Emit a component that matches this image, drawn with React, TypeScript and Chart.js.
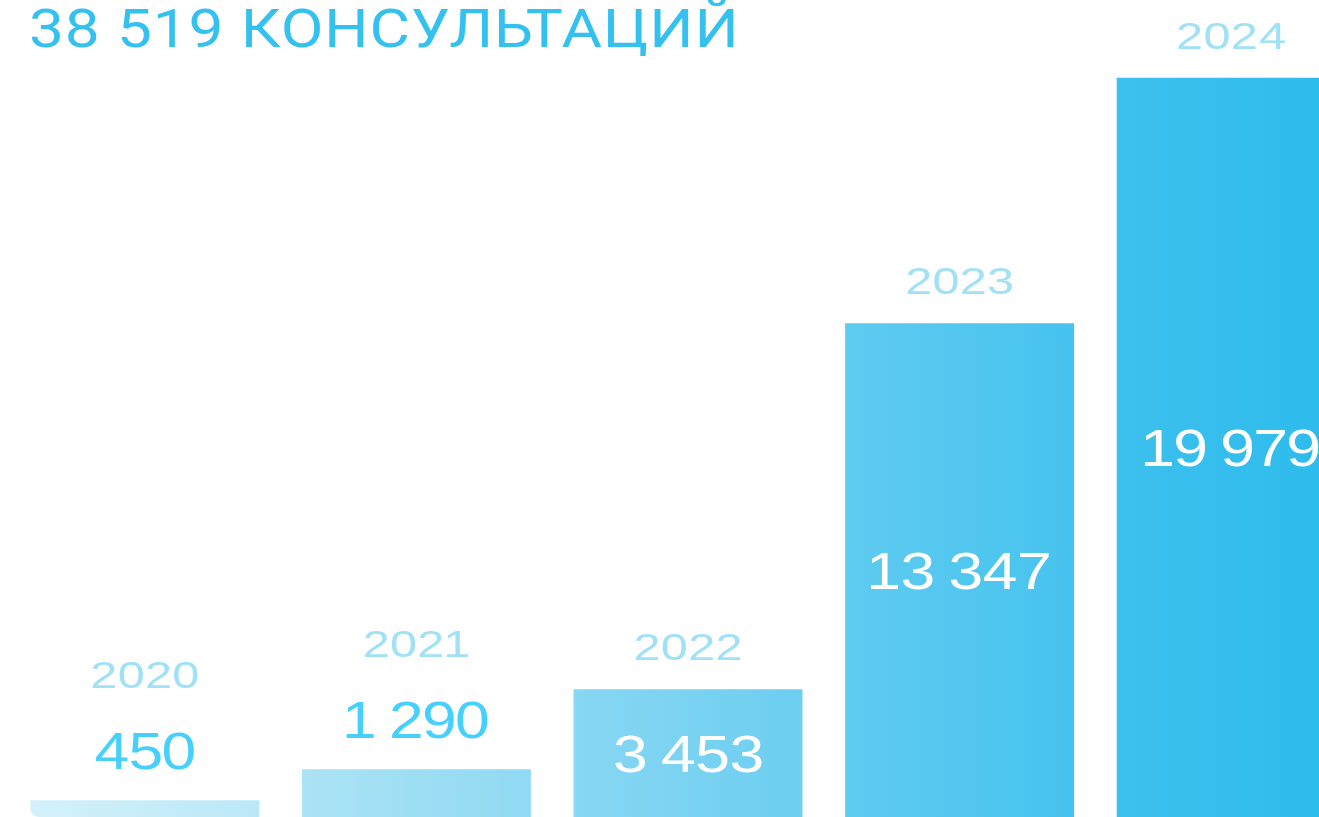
import React, { useEffect, useRef } from "react";
import { Chart, registerables } from "chart.js";

Chart.register(...registerables);

const TITLE = "38 519 КОНСУЛЬТАЦИЙ";
const YEARS = ["2020", "2021", "2022", "2023", "2024"];
const CONSULTATIONS = [450, 1290, 3453, 13347, 19979];
const Y_MAX = 22000;

const GRADIENT_STOPS: [number, string][] = [
  [0.0155, "#d4f1fa"],
  [0.184, "#bae8f7"],
  [0.2158, "#ace3f5"],
  [0.385, "#8fd9f2"],
  [0.416, "#88d7f3"],
  [0.585, "#6ccef0"],
  [0.616, "#5fcbf0"],
  [0.7835, "#46c3ee"],
  [0.8144, "#3dc0ee"],
  [0.9647, "#2ebcec"],
];

const fmt = (v: number) => String(v).replace(/\B(?=(\d{3})+(?!\d))/g, " ");

// Draws text centred at (cx, cy) using glyph ink boxes, horizontal stretch sx,
// a fixed gap between glyphs and an extra gap for spaces.
function drawInk(
  ctx: CanvasRenderingContext2D,
  text: string,
  cx: number,
  cy: number,
  size: number,
  sx: number,
  gap: number,
  spaceGap: number,
  color: string
) {
  ctx.save();
  ctx.font = `400 ${size}px "Liberation Sans", Arial, sans-serif`;
  ctx.fillStyle = color;
  ctx.textAlign = "left";
  ctx.textBaseline = "alphabetic";
  const items: { ch: string; l: number; w: number; space: boolean }[] = [];
  for (const ch of text) {
    if (ch === " ") {
      items.push({ ch, l: 0, w: 0, space: true });
      continue;
    }
    const m = ctx.measureText(ch);
    items.push({ ch, l: m.actualBoundingBoxLeft, w: (m.actualBoundingBoxLeft + m.actualBoundingBoxRight) * sx, space: false });
  }
  let total = 0;
  let glyphs = 0;
  items.forEach((it) => {
    if (it.space) total += spaceGap;
    else {
      if (glyphs > 0) total += gap;
      total += it.w;
      glyphs++;
    }
  });
  let px = cx - total / 2;
  const baseline = cy + size * 0.358;
  let first = true;
  items.forEach((it) => {
    if (it.space) {
      px += spaceGap;
      return;
    }
    if (!first) px += gap;
    first = false;
    ctx.save();
    ctx.translate(px + it.l * sx, baseline);
    ctx.scale(sx, 1);
    ctx.fillText(it.ch, 0, 0);
    ctx.restore();
    px += it.w;
  });
  ctx.restore();
}

const labelPlugin = {
  id: "barLabels",
  afterDatasetsDraw(chart: any) {
    const ctx: CanvasRenderingContext2D = chart.ctx;
    const meta = chart.getDatasetMeta(0);
    meta.data.forEach((bar: any, i: number) => {
      const { x, y, base } = bar.getProps(["x", "y", "base"], true);
      const h = base - y;
      const inside = h > 100;
      const valueCenter = inside ? (y + base) / 2 : y - 50;
      const yearCenter = inside ? y - 42 : valueCenter - 75;
      drawInk(ctx, fmt(CONSULTATIONS[i]), x, valueCenter, 52, 1.2, 3, 14, inside ? "#ffffff" : "#47d0fb");
      drawInk(ctx, chart.data.labels[i], x, yearCenter, 36, 1.35, 3, 6, "#a0e1f6");
    });
    // title
    ctx.save();
    ctx.font = `400 54px Roboto, "Noto Sans", sans-serif`;
    ctx.fillStyle = "#35c1ef";
    ctx.textAlign = "left";
    ctx.textBaseline = "alphabetic";
    (ctx as any).letterSpacing = "0.8px";
    ctx.translate(29, 47);
    ctx.scale(1.15, 1);
    ctx.fillText(TITLE, 0, 0);
    ctx.restore();
  },
};

export default function App() {
  const ref = useRef<HTMLCanvasElement | null>(null);

  useEffect(() => {
    if (!ref.current) return;
    const chart = new Chart(ref.current, {
      type: "bar",
      data: {
        labels: YEARS,
        datasets: [
          {
            data: CONSULTATIONS,
            backgroundColor: (c: any) => {
              const { chart } = c;
              const area = chart.chartArea;
              if (!area) return "#5fcbf0";
              const g = chart.ctx.createLinearGradient(area.left, 0, area.right, 0);
              GRADIENT_STOPS.forEach(([p, col]) => g.addColorStop(p, col));
              return g;
            },
            borderWidth: 0,
            borderSkipped: false,
            borderRadius: (c: any) => (c.dataIndex === 0 ? { bottomLeft: 10, topLeft: 0, topRight: 0, bottomRight: 0 } : 0),
            barPercentage: 0.843,
            categoryPercentage: 1,
          },
        ],
      },
      options: {
        responsive: false,
        animation: false,
        devicePixelRatio: 1,
        layout: { padding: { left: 9, right: 5, top: 3, bottom: 0 } },
        scales: {
          x: { display: false },
          y: { display: false, min: 0, max: Y_MAX },
        },
        plugins: {
          legend: { display: false },
          tooltip: { enabled: false },
          title: { display: false },
        },
      },
      plugins: [labelPlugin],
    });
    return () => chart.destroy();
  }, []);

  return (
    <div
      style={{
        position: "fixed",
        left: 0,
        top: 0,
        width: 1319,
        height: 817,
        overflow: "hidden",
        background: "#ffffff",
      }}
    >
      <canvas ref={ref} width={1372} height={817} style={{ display: "block" }} />
    </div>
  );
}
